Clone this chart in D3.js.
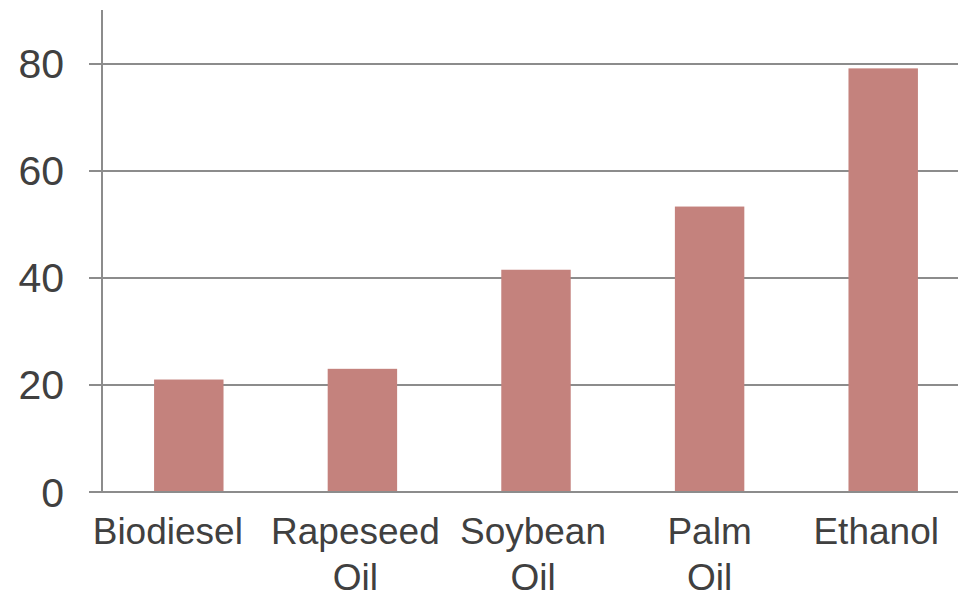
<!DOCTYPE html>
<html>
<head>
<meta charset="utf-8">
<script src="https://cdn.jsdelivr.net/npm/d3@7/dist/d3.min.js"></script>
<style>
  html, body { margin: 0; padding: 0; background: #fff; }
  svg { display: block; }
  text { font-family: "Liberation Sans", Arial, sans-serif; fill: #404040; }
</style>
</head>
<body>
<svg id="chart" width="958" height="590"></svg>
<script>
// Chart data
const categories = ["Biodiesel", "Rapeseed Oil", "Soybean Oil", "Palm Oil", "Ethanol"];
const categoryLines = [["Biodiesel"], ["Rapeseed", "Oil"], ["Soybean", "Oil"], ["Palm", "Oil"], ["Ethanol"]];
const values = [21, 23, 41.5, 53.3, 79.1];
const yTicks = [0, 20, 40, 60, 80];

(function () {
  const svg = d3.select("#chart");
  const W = 958;
  const plotLeft = 102, plotTop = 10, plotBottom = 492, plotRight = 970;

  const x = d3.scaleBand()
    .domain(categories)
    .range([plotLeft, plotRight])
    .paddingInner(0.6)
    .paddingOuter(0.3);

  const y = d3.scaleLinear().domain([0, 90]).range([plotBottom, plotTop]);

  const gridColor = "#8c8c8c";

  // horizontal gridlines with short outside ticks
  svg.append("g")
    .selectAll("line")
    .data(yTicks)
    .join("line")
    .attr("x1", 89)
    .attr("x2", W)
    .attr("y1", d => Math.round(y(d)))
    .attr("y2", d => Math.round(y(d)))
    .attr("stroke", gridColor)
    .attr("stroke-width", 2);

  // vertical value axis
  svg.append("line")
    .attr("x1", plotLeft).attr("x2", plotLeft)
    .attr("y1", plotTop).attr("y2", plotBottom)
    .attr("stroke", gridColor)
    .attr("stroke-width", 2);

  // bars
  svg.append("g")
    .selectAll("rect")
    .data(values)
    .join("rect")
    .attr("x", (d, i) => x(categories[i]))
    .attr("width", x.bandwidth())
    .attr("y", d => y(d))
    .attr("height", d => y(0) - y(d))
    .attr("fill", "#c4827d");

  // baseline drawn above the bars
  svg.append("line")
    .attr("x1", 89).attr("x2", W)
    .attr("y1", Math.round(y(0))).attr("y2", Math.round(y(0)))
    .attr("stroke", gridColor)
    .attr("stroke-width", 2);

  // value tick labels
  svg.append("g")
    .selectAll("text")
    .data(yTicks)
    .join("text")
    .attr("x", 64)
    .attr("y", d => y(d))
    .attr("dy", "0.355em")
    .attr("text-anchor", "end")
    .attr("font-size", 41)
    .text(d => d);

  // category labels, one word per line where they wrap;
  // small horizontal nudges keep neighbouring labels apart
  const labelNudge = [-21, -7, -3, 0, -7];
  const catText = svg.append("g")
    .selectAll("text")
    .data(categories)
    .join("text")
    .attr("text-anchor", "middle")
    .attr("font-size", 37);

  catText.selectAll("tspan")
    .data((d, i) => categoryLines[i].map(t => ({ t, cx: x(d) + x.bandwidth() / 2 + labelNudge[i] })))
    .join("tspan")
    .attr("x", d => d.cx)
    .attr("y", (d, j) => 544 + j * 46)
    .text(d => d.t);
})();
</script>
</body>
</html>
